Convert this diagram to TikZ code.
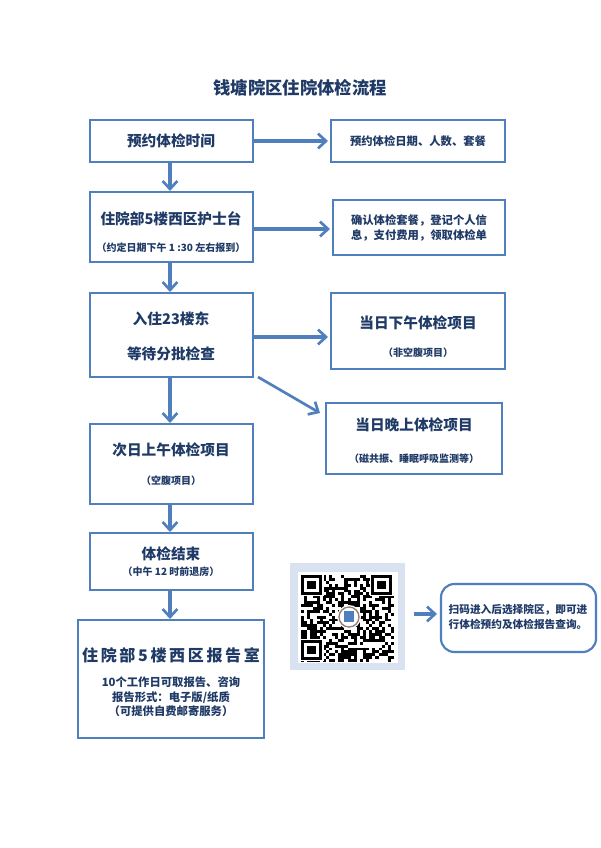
\documentclass[tikz,border=0pt]{standalone}
\usepackage{fontspec}
\setmainfont{Noto Sans CJK SC}
\usetikzlibrary{arrows.meta}
\definecolor{bd}{HTML}{4F7FBC}
\definecolor{tx}{HTML}{1F3A66}
\definecolor{qrbg}{HTML}{D9E2F1}
\tikzset{
 box/.style={draw=bd,line width=1.6pt,fill=white},
 arr/.style={draw=bd,line width=3pt,-{Straight Barb[length=6pt,width=11pt,line width=2pt]}},
 big/.style={text=tx,font=\fontsize{11}{13}\selectfont\bfseries},
 sm/.style={text=tx,font=\fontsize{7.5}{9}\selectfont\bfseries},
}
\begin{document}
\begin{tikzpicture}[x=0.75pt,y=-0.75pt]
\useasboundingbox[fill=white] (0,0) rectangle (600,848);
\node[text=tx,font=\fontsize{13}{15}\selectfont\bfseries] (title) at (300,88) {钱塘院区住院体检流程};
% left column
\draw[box] (90,120) rectangle (253,162); \coordinate (b1) at (171,141);
\node[big] (t1) at (171,141) {预约体检时间};
\draw[box] (90,192) rectangle (253,262);
\node[big] (t2) at (171,219) {住院部5楼西区护士台};
\node[sm] (t2b) at (171,248) {（约定日期下午 1 :30 左右报到）};
\draw[box] (90,293) rectangle (253,377);
\node[big] (t3) at (171,319) {入住23楼东};
\node[big] (t3b) at (171,354) {等待分批检查};
\draw[box] (90,424) rectangle (253,504);
\node[big] (t4) at (171,450) {次日上午体检项目};
\node[sm] (t4b) at (171,481) {（空腹项目）};
\draw[box] (90,533) rectangle (253,590);
\node[big] (t5) at (171,554) {体检结束};
\node[sm] (t5b) at (171,572) {（中午 12 时前退房）};
\draw[box] (78,620) rectangle (264,738);
\node[text=tx,font=\fontsize{12}{14}\selectfont\bfseries] (t6) at (171,655) {住\,院\,部\,5\,楼\,西\,区\,报\,告\,室};
\node[sm,align=center,font=\fontsize{8.5}{11}\selectfont\bfseries] (t6b) at (171,697) {10个工作日可取报告、咨询\\报告形式：电子版/纸质\\（可提供自费邮寄服务）};
% right column
\draw[box] (331,120) rectangle (505,162);
\node[sm,font=\fontsize{8.5}{10}\selectfont\bfseries] (r1) at (418,141) {预约体检日期、人数、套餐};
\draw[box] (333,200) rectangle (505,255);
\node[sm,align=left,font=\fontsize{8.5}{11.5}\selectfont\bfseries] (r2) at (419,228) {确认体检套餐，登记个人信\\息，支付费用，领取体检单};
\draw[box] (331,293) rectangle (505,369);
\node[big] (r3) at (418,323) {当日下午体检项目};
\node[sm] (r3b) at (418,353) {（非空腹项目）};
\draw[bd,line width=0.8pt,fill=white] (326,403) rectangle (502,474);
\node[big] (r4) at (414,425) {当日晚上体检项目};
\node[sm] (r4b) at (414,459) {（磁共振、睡眠呼吸监测等）};
% arrows
\draw[arr] (170,162) -- (170,191);
\draw[arr] (170,262) -- (170,292);
\draw[arr] (170,377) -- (170,423);
\draw[arr] (170,504) -- (170,532);
\draw[arr] (170,590) -- (170,619);
\draw[arr] (253,141) -- (328,141);
\draw[arr] (253,229) -- (330,229);
\draw[arr] (253,337) -- (328,337);
\draw[arr,line width=2pt] (258,377) -- (320,413);
% QR
\fill[qrbg] (290,563) rectangle (405,670);
\fill[white] (298,572) rectangle (398,663);
\pgfmathsetseed{7}
\foreach \i in {0,...,29}{\foreach \j in {0,...,29}{
  \pgfmathparse{rnd<0.5?1:0}
  \ifnum\pgfmathresult=1 \fill[black] ({301+\i*3.1},{575+\j*2.9}) rectangle ++(3.1,2.9);\fi}}
\foreach \x/\y in {301/575,371/575,301/640}{
  \fill[white] (\x-1,\y-1) rectangle ++(24,22);
  \fill[black] (\x,\y) rectangle ++(21,20);
  \fill[white] (\x+3,\y+3) rectangle ++(15,14);
  \fill[black] (\x+6,\y+6) rectangle ++(9,8);}
\fill[white] (349,617) circle (12);
\draw[bd!60!orange,line width=1pt] (349,617) circle (10);
\fill[bd] (344,611) rectangle (354,622);
\draw[arr] (414,614) -- (437,614);
\draw[bd,line width=1.6pt,rounded corners=10pt,fill=white] (441,584) rectangle (596,652);
\node[sm,align=left,font=\fontsize{8}{11}\selectfont\bfseries] (r5) at (518,617) {扫码进入后选择院区，即可进\\行体检预约及体检报告查询。};
\end{tikzpicture}
\end{document}
